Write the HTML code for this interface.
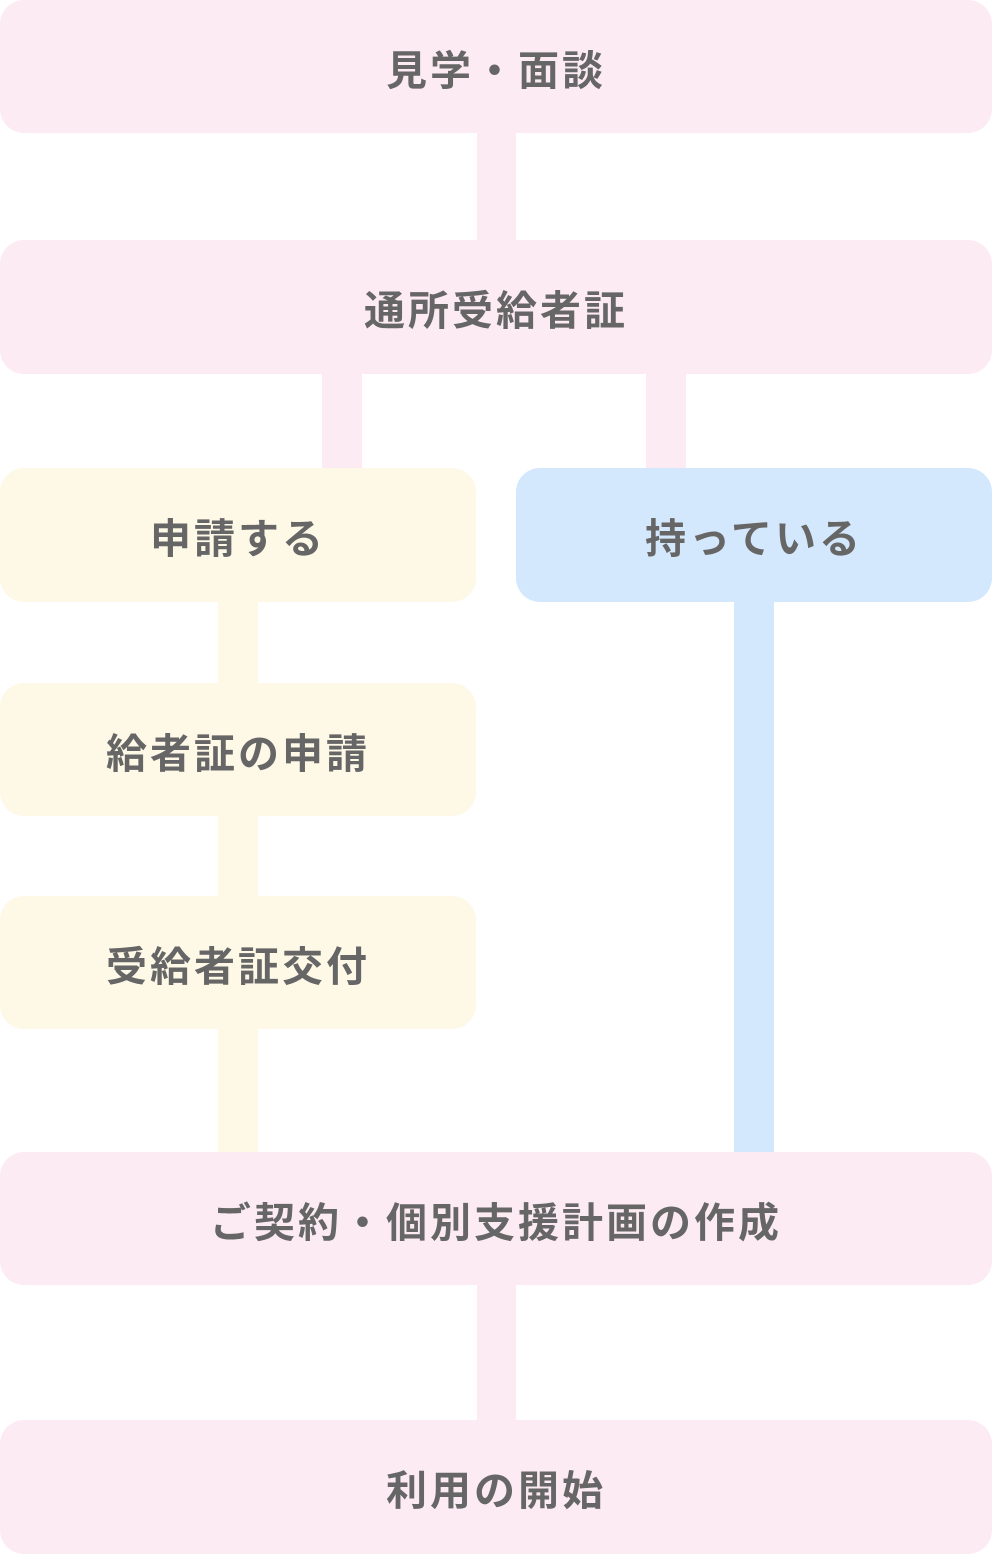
<!DOCTYPE html>
<html><head><meta charset="utf-8"><style>
html,body{margin:0;padding:0;background:#fff;}
body{width:992px;height:1554px;position:relative;overflow:hidden;font-family:"Liberation Sans","Noto Sans CJK JP",sans-serif;}
.b{position:absolute;border-radius:24px;display:flex;align-items:center;justify-content:center;color:#666;font-weight:bold;font-size:41px;letter-spacing:3px;}
.p{background:#fdebf3;}.y{background:#fef8e7;}.bl{background:#d3e7fd;}
.c{position:absolute;}
</style></head><body>
<div class="c p" style="left:477px;top:120px;width:39px;height:130px"></div>
<div class="c p" style="left:322px;top:360px;width:40px;height:120px"></div>
<div class="c p" style="left:646px;top:360px;width:40px;height:120px"></div>
<div class="c y" style="left:218px;top:590px;width:40px;height:580px"></div>
<div class="c bl" style="left:734px;top:590px;width:40px;height:580px"></div>
<div class="c p" style="left:477px;top:1270px;width:39px;height:160px"></div>
<div class="b p" style="left:0;top:0;width:992px;height:133px">見学・面談</div>
<div class="b p" style="left:0;top:240px;width:992px;height:134px">通所受給者証</div>
<div class="b y" style="left:0;top:468px;width:476px;height:134px">申請する</div>
<div class="b bl" style="left:516px;top:468px;width:476px;height:134px">持っている</div>
<div class="b y" style="left:0;top:683px;width:476px;height:133px">給者証の申請</div>
<div class="b y" style="left:0;top:896px;width:476px;height:133px">受給者証交付</div>
<div class="b p" style="left:0;top:1152px;width:992px;height:133px">ご契約・個別支援計画の作成</div>
<div class="b p" style="left:0;top:1420px;width:992px;height:134px">利用の開始</div>
</body></html>
